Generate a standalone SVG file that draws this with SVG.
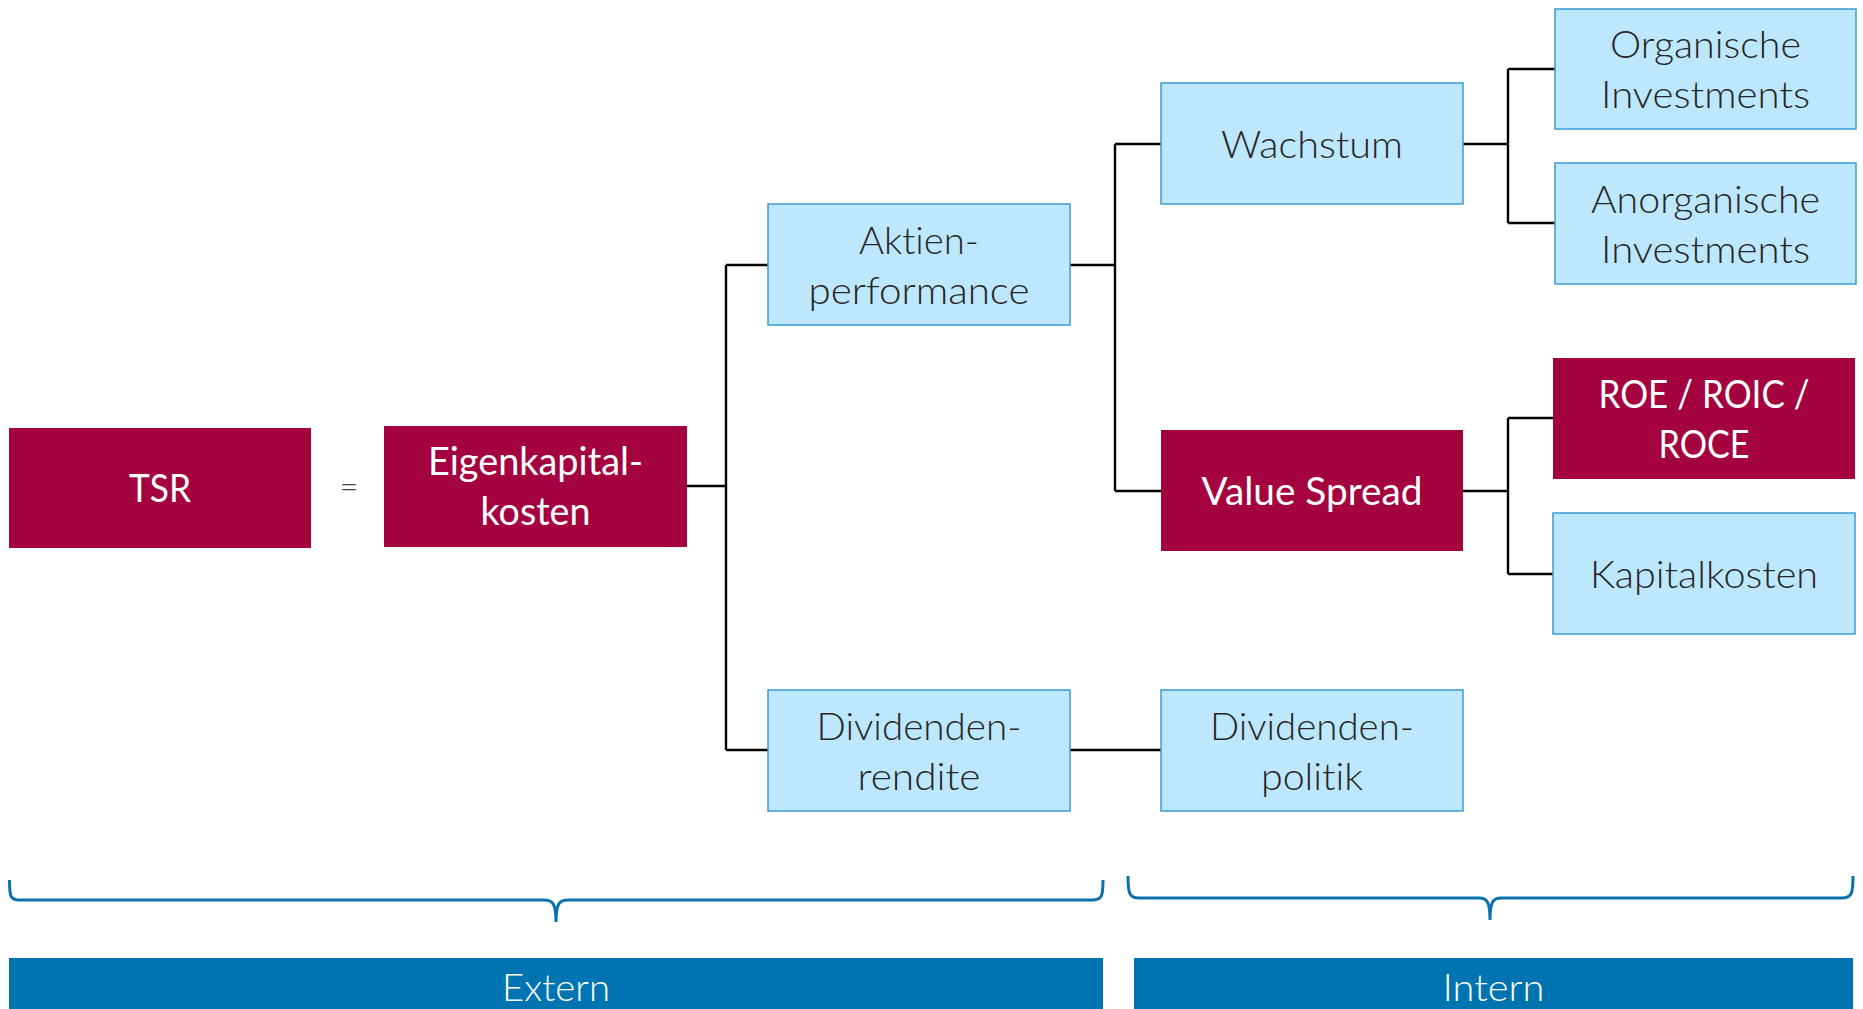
<svg xmlns="http://www.w3.org/2000/svg" width="1863" height="1009" viewBox="0 0 1863 1009">
<style>
.bx{fill:#BDE7FC;stroke:#3D9BD2;stroke-width:1.5}
.rd{fill:#A5033F}
.t{font-family:Lato,"Liberation Sans",sans-serif;font-size:38px;text-anchor:middle;font-variant-ligatures:none}
.dk{fill:#262626;font-weight:300}
.wh{fill:#FFFFFF}
.cn{fill:none;stroke:#000;stroke-width:2.4}
.br{fill:none;stroke:#0A72AE;stroke-width:3}
.bar{fill:#0074B1}
</style>
<rect width="1863" height="1009" fill="#FFFFFF"/>
<g id="connectors">
<path class="cn" d="M687,486H726M726,265V750M726,265H768M726,750H768"/>
<path class="cn" d="M1070,265H1115M1115,144V491M1115,144H1161M1115,491H1161"/>
<path class="cn" d="M1070,750H1161"/>
<path class="cn" d="M1463,144H1508M1508,69V223M1508,69H1555M1508,223H1555"/>
<path class="cn" d="M1463,491H1508M1508,418V574M1508,418H1553M1508,574H1553"/>
</g>
<g id="tsr">
<rect class="rd" x="9" y="428" width="302" height="120"/>
<text class="t wh" x="160" y="502" textLength="62" lengthAdjust="spacingAndGlyphs">TSR</text>
</g>
<g id="equals">
<text x="349" y="498" font-family="Lato,'Liberation Sans',sans-serif" font-size="32" font-weight="300" fill="#404040" text-anchor="middle">=</text>
</g>
<g id="eigenkapital">
<rect class="rd" x="384" y="426" width="303" height="121"/>
<text class="t wh" x="535.5" y="475" textLength="215" lengthAdjust="spacingAndGlyphs">Eigenkapital-</text>
<text class="t wh" x="535.5" y="525" textLength="110" lengthAdjust="spacingAndGlyphs">kosten</text>
</g>
<g id="aktien">
<rect class="bx" x="768" y="204" width="302" height="121"/>
<text class="t dk" x="919" y="254" textLength="120" lengthAdjust="spacingAndGlyphs">Aktien-</text>
<text class="t dk" x="919" y="304" textLength="221" lengthAdjust="spacingAndGlyphs">performance</text>
</g>
<g id="dividendenrendite">
<rect class="bx" x="768" y="690" width="302" height="121"/>
<text class="t dk" x="919" y="740" textLength="205" lengthAdjust="spacingAndGlyphs">Dividenden-</text>
<text class="t dk" x="919" y="790" textLength="123" lengthAdjust="spacingAndGlyphs">rendite</text>
</g>
<g id="wachstum">
<rect class="bx" x="1161" y="83" width="302" height="121"/>
<text class="t dk" x="1312" y="158" textLength="182" lengthAdjust="spacingAndGlyphs">Wachstum</text>
</g>
<g id="valuespread">
<rect class="rd" x="1161" y="430" width="302" height="121"/>
<text class="t wh" x="1312" y="505" textLength="221" lengthAdjust="spacingAndGlyphs">Value Spread</text>
</g>
<g id="dividendenpolitik">
<rect class="bx" x="1161" y="690" width="302" height="121"/>
<text class="t dk" x="1312" y="740" textLength="204" lengthAdjust="spacingAndGlyphs">Dividenden-</text>
<text class="t dk" x="1312" y="790" textLength="102" lengthAdjust="spacingAndGlyphs">politik</text>
</g>
<g id="organische">
<rect class="bx" x="1555" y="9" width="301" height="120"/>
<text class="t dk" x="1705.5" y="58" textLength="191" lengthAdjust="spacingAndGlyphs">Organische</text>
<text class="t dk" x="1705.5" y="108" textLength="209" lengthAdjust="spacingAndGlyphs">Investments</text>
</g>
<g id="anorganische">
<rect class="bx" x="1555" y="163" width="301" height="121"/>
<text class="t dk" x="1705.5" y="213" textLength="229" lengthAdjust="spacingAndGlyphs">Anorganische</text>
<text class="t dk" x="1705.5" y="263" textLength="209" lengthAdjust="spacingAndGlyphs">Investments</text>
</g>
<g id="roe">
<rect class="rd" x="1553" y="358" width="302" height="121"/>
<text class="t wh" x="1704" y="408" textLength="211" lengthAdjust="spacingAndGlyphs">ROE / ROIC /</text>
<text class="t wh" x="1704" y="458" textLength="91" lengthAdjust="spacingAndGlyphs">ROCE</text>
</g>
<g id="kapitalkosten">
<rect class="bx" x="1553" y="513" width="302" height="121"/>
<text class="t dk" x="1704" y="588" textLength="228" lengthAdjust="spacingAndGlyphs">Kapitalkosten</text>
</g>
<g id="brace-extern">
<path class="br" d="M9.5,880C9.5,896 10,900 20,900H544C553,900 556,904 556,922C556,904 559,900 568,900H1092C1102,900 1103,896 1103,880"/>
</g>
<g id="brace-intern">
<path class="br" d="M1128,876C1128,893 1129,898 1139,898H1479C1487,898 1490,902 1490,920C1490,902 1493,898 1501,898H1842C1852,898 1853,893 1853,876"/>
</g>
<g id="extern">
<rect class="bar" x="9" y="958" width="1094" height="51"/>
<text class="wh" x="556" y="1001" font-family="Lato,'Liberation Sans',sans-serif" font-size="38" font-weight="300" text-anchor="middle" textLength="108" lengthAdjust="spacingAndGlyphs">Extern</text>
</g>
<g id="intern">
<rect class="bar" x="1134" y="958" width="719" height="51"/>
<text class="wh" x="1493.5" y="1001" font-family="Lato,'Liberation Sans',sans-serif" font-size="38" font-weight="300" text-anchor="middle" textLength="102" lengthAdjust="spacingAndGlyphs">Intern</text>
</g>
</svg>
